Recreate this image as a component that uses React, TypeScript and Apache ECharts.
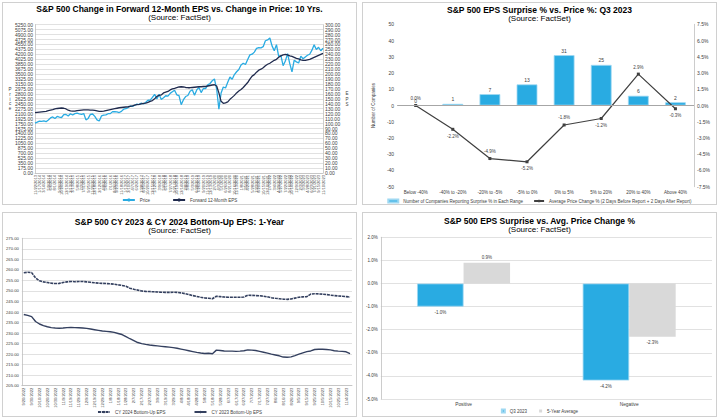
import React, { useEffect, useRef } from "react";
import * as echarts from "echarts";

const FONT = "Liberation Sans";
const BLUE = "#29ABE2";
const NAVY = "#1F2A4D";
const SLATE = "#34405F";
const GRAY_BAR = "#D9D9D9";
const TXT = "#404040";

// ---------- Panel 1: Price vs Forward 12M EPS (10 yrs) ----------
const P1_DATES = [
  "11/22/2013","12/20/2013",
  "1/17/2014","2/14/2014","3/14/2014","4/11/2014","5/9/2014","6/6/2014","7/4/2014","8/1/2014","8/29/2014","9/26/2014","10/24/2014","11/21/2014","12/19/2014",
  "1/16/2015","2/13/2015","3/13/2015","4/10/2015","5/8/2015","6/5/2015","7/3/2015","7/31/2015","8/28/2015","9/25/2015","10/23/2015","11/20/2015","12/18/2015",
  "1/15/2016","2/12/2016","3/11/2016","4/8/2016","5/6/2016","6/3/2016","7/1/2016","7/29/2016","8/26/2016","9/23/2016","10/21/2016","11/18/2016","12/16/2016",
  "1/13/2017","2/10/2017","3/10/2017","4/7/2017","5/5/2017","6/2/2017","6/30/2017","7/28/2017","8/25/2017","9/22/2017","10/20/2017","11/17/2017","12/15/2017",
  "1/12/2018","2/9/2018","3/9/2018","4/6/2018","5/4/2018","6/1/2018","6/29/2018","7/27/2018","8/24/2018","9/21/2018","10/19/2018","11/16/2018","12/14/2018",
  "1/11/2019","2/8/2019","3/8/2019","4/5/2019","5/3/2019","5/31/2019","6/28/2019","7/26/2019","8/23/2019","9/20/2019","10/18/2019","11/15/2019","12/13/2019",
  "1/10/2020","2/7/2020","3/6/2020","4/3/2020","5/1/2020","5/29/2020","6/26/2020","7/24/2020","8/21/2020","9/18/2020","10/16/2020","11/13/2020","12/11/2020",
  "1/8/2021","2/5/2021","3/5/2021","4/2/2021","4/30/2021","5/28/2021","6/25/2021","7/23/2021","8/20/2021","9/17/2021","10/15/2021","11/12/2021","12/10/2021",
  "1/7/2022","2/4/2022","3/4/2022","4/1/2022","4/29/2022","5/27/2022","6/24/2022","7/22/2022","8/19/2022","9/16/2022","10/14/2022","11/11/2022","12/9/2022",
  "1/6/2023","2/3/2023","3/3/2023","3/31/2023","4/28/2023","5/26/2023","6/23/2023","7/21/2023","8/18/2023","9/15/2023","10/13/2023","11/10/2023",
];
const P1_PRICE = [
  1765, 1800,
  1838, 1830, 1842, 1816, 1878, 1949, 1985, 1926, 2003, 1982, 1964, 2064, 2071,
  2019, 2097, 2053, 2102, 2116, 2092, 2077, 2104, 1880, 1932, 2075, 2089, 2006,
  1880, 1840, 2022, 2047, 2057, 2099, 2102, 2173, 2169, 2164, 2141, 2182, 2258,
  2275, 2316, 2372, 2355, 2399, 2439, 2423, 2472, 2443, 2502, 2575, 2578, 2675,
  2786, 2619, 2786, 2604, 2663, 2735, 2718, 2818, 2875, 2930, 2767, 2736, 2420,
  2596, 2708, 2743, 2893, 2946, 2752, 2942, 3026, 2847, 2992, 2986, 3120, 3169,
  3265, 3328, 2972, 2260, 2831, 3044, 3009, 3216, 3397, 3319, 3484, 3585, 3663,
  3824, 3886, 3841, 4019, 4181, 4204, 4280, 4411, 4441, 4432, 4471, 4682, 4712,
  4780, 4500, 4329, 4545, 4132, 4158, 3800, 3962, 4228, 3873, 3583, 3993, 3934,
  3895, 4136, 4045, 4109, 4169, 4205, 4348, 4536, 4370, 4450, 4327, 4415,
];
const P1_EPS = [
  122.0, 122.5,
  123.0, 123.5, 124.0, 124.5, 126.0, 127.0, 128.0, 129.5, 130.5, 131.0, 131.5, 131.0, 129.5,
  127.0, 125.5, 125.0, 125.0, 126.0, 126.5, 127.0, 127.5, 127.5, 127.5, 127.0, 127.0, 126.5,
  125.5, 124.5, 124.5, 125.0, 126.0, 127.0, 128.0, 129.0, 130.0, 131.0, 132.0, 132.5, 133.0,
  133.5, 134.0, 135.0, 136.0, 137.5, 138.5, 139.0, 140.0, 141.0, 141.5, 143.0, 145.0, 146.5,
  150.0, 155.0, 157.0, 158.0, 162.0, 163.5, 165.0, 168.0, 170.0, 171.0, 172.5, 174.0, 174.5,
  174.0, 173.0, 172.5, 172.5, 173.0, 173.5, 174.0, 174.5, 174.5, 175.0, 175.0, 176.0, 177.0,
  178.0, 178.5, 176.0, 162.0, 145.0, 141.0, 142.0, 144.0, 149.0, 153.0, 157.0, 162.0, 166.0,
  169.0, 173.0, 178.0, 183.0, 190.0, 196.0, 199.0, 204.0, 208.0, 210.0, 213.0, 217.0, 220.0,
  222.0, 225.0, 228.0, 230.0, 234.0, 237.0, 239.0, 240.0, 239.0, 237.0, 236.0, 234.0, 232.0,
  231.0, 229.0, 228.0, 228.0, 229.0, 230.0, 232.0, 234.0, 236.0, 238.0, 240.0, 242.0,
];
const P1_SHOWN_LABELS = 78;

// ---------- Panel 2: EPS surprise buckets ----------
const P2_CATS = ["Below -40%", "-40% to -20%", "-20% to -5%", "-5% to 0%", "0% to 5%", "5% to 20%", "20% to 40%", "Above 40%"];
const P2_COUNTS = [0, 1, 7, 13, 31, 25, 6, 2];
const P2_PRICE_CHG = [0.0, -2.2, -4.9, -5.2, -1.8, -1.2, 2.9, -0.3];

// ---------- Panel 3: CY2023 / CY2024 bottom-up EPS ----------
const P3_DATES = [
  "9/20/2022","9/25/2022","9/30/2022","10/5/2022","10/10/2022","10/15/2022","10/20/2022","10/25/2022","10/30/2022","11/4/2022","11/9/2022","11/14/2022","11/19/2022","11/24/2022","11/29/2022","12/4/2022","12/9/2022","12/14/2022","12/19/2022","12/24/2022","12/29/2022",
  "1/3/2023","1/8/2023","1/13/2023","1/18/2023","1/23/2023","1/28/2023","2/2/2023","2/7/2023","2/12/2023","2/17/2023","2/22/2023","2/27/2023","3/4/2023","3/9/2023","3/14/2023","3/19/2023","3/24/2023","3/29/2023","4/3/2023","4/8/2023","4/13/2023","4/18/2023","4/23/2023","4/28/2023","5/3/2023","5/8/2023","5/13/2023","5/18/2023","5/23/2023","5/28/2023","6/2/2023","6/7/2023","6/12/2023","6/17/2023","6/22/2023","6/27/2023","7/2/2023","7/7/2023","7/12/2023","7/17/2023","7/22/2023","7/27/2023","8/1/2023","8/6/2023","8/11/2023","8/16/2023","8/21/2023","8/26/2023","8/31/2023","9/5/2023","9/10/2023","9/15/2023","9/20/2023","9/25/2023","9/30/2023","10/5/2023","10/10/2023","10/15/2023","10/20/2023","10/25/2023","10/30/2023","11/4/2023","11/9/2023",
];
const P3_CY2024 = [
  258.6, 258.9, 258.7, 256.2, 254.8, 254.3, 254.0, 253.7, 253.5, 253.6,
  254.0, 254.3, 254.5, 254.4, 254.5, 254.5, 254.3, 254.1, 253.9, 253.7,
  253.6, 253.5, 253.4, 253.2, 252.9, 252.6, 252.2, 251.3, 250.8, 250.4,
  250.0, 249.8, 249.7, 249.6, 249.5, 249.4, 249.3, 249.3, 249.4, 249.3,
  249.1, 248.7, 248.3, 247.8, 247.4, 247.0, 246.7, 246.5, 246.3, 247.5,
  247.3, 247.1, 247.0, 247.0, 247.0, 247.0, 247.1, 248.0, 247.9, 247.8,
  247.7, 247.5, 247.2, 246.8, 246.5, 246.3, 246.1, 246.0, 246.2, 246.6,
  247.0, 247.2, 247.3, 248.5, 248.7, 248.6, 248.5, 248.3, 248.0, 247.8,
  247.6, 247.5, 247.3, 247.1,
];
const P3_CY2023 = [
  238.8, 238.4, 237.8, 235.5, 234.3, 233.5, 233.0, 232.6, 232.4, 232.3,
  232.4, 232.6, 232.7, 232.6, 232.5, 232.4, 232.2, 231.9, 231.6, 231.3,
  231.0, 230.8, 230.6, 230.3, 229.8, 229.3, 228.3, 227.3, 226.4, 225.5,
  225.0, 224.6, 224.3, 224.1, 223.9, 223.7, 223.5, 223.3, 223.1, 222.8,
  222.4, 222.0, 221.6, 221.2, 220.8, 220.5, 220.3, 220.4, 220.2, 221.9,
  221.7, 221.5, 221.4, 221.4, 221.3, 221.4, 221.6, 222.0, 221.9, 221.7,
  221.3, 220.9, 220.5, 220.0, 219.6, 219.2, 218.6, 218.5, 218.7, 219.3,
  220.0, 220.6, 221.2, 221.5, 222.2, 222.3, 222.3, 222.2, 222.0, 221.6,
  221.4, 221.3, 221.1, 220.2,
];

// ---------- Panel 4: Surprise vs avg price change ----------
const P4_CATS = ["Positive", "Negative"];
const P4_Q3 = [-1.0, -4.2];
const P4_5YR = [0.9, -2.3];

// ---------- helpers ----------
const lab = (size: number) => ({ fontFamily: FONT, fontSize: size, color: TXT });

function titles(main: string, t1: number, t2: number) {
  return [
    { text: main, left: "center", top: t1, padding: 0, textStyle: { fontFamily: FONT, fontSize: 8.5, lineHeight: 8.5, fontWeight: "bold", color: "#000" } },
    { text: "(Source: FactSet)", left: "center", top: t2, padding: 0, textStyle: { fontFamily: FONT, fontSize: 8, lineHeight: 8, fontWeight: "normal", color: "#000" } },
  ];
}

const axisLineStyle = { show: true, lineStyle: { color: "#bfbfbf", width: 0.8 } };
const gridLine = { show: true, lineStyle: { color: "#d9d9d9", width: 0.8 } };

function legendBase(top: number) {
  return { top, left: "center", padding: 0, textStyle: { ...lab(4.5), lineHeight: 5 } };
}

function option1(): any {
  return {
    animation: false,
    title: titles("S&P 500 Change in Forward 12-Month EPS vs. Change in Price: 10 Yrs.", 1.6, 10.3),
    grid: { left: 32, right: 33, top: 21.7, bottom: 31 },
    legend: {
      ...legendBase(194.5), itemWidth: 12, itemHeight: 4, itemGap: 22,
      data: ["Price", "Forward 12-Month EPS"],
    },
    xAxis: {
      type: "category", data: P1_DATES, boundaryGap: false,
      axisTick: { show: false }, axisLine: axisLineStyle,
      axisLabel: {
        ...lab(4), rotate: 90, margin: 2,
        interval: (i: number) => Math.floor((i * P1_SHOWN_LABELS) / P1_DATES.length) !== Math.floor(((i - 1) * P1_SHOWN_LABELS) / P1_DATES.length),
      },
    },
    yAxis: [
      { type: "value", min: 0, max: 5250, interval: 175, axisLine: axisLineStyle, axisTick: { show: false },
        axisLabel: { ...lab(5), margin: 2, formatter: (v: number) => v.toFixed(2) }, splitLine: gridLine },
      { type: "value", min: 0, max: 300, interval: 10, position: "right", axisLine: axisLineStyle, axisTick: { show: false },
        axisLabel: { ...lab(5), margin: 2, formatter: (v: number) => v.toFixed(2) }, splitLine: { show: false } },
    ],
    graphic: [
      { type: "text", x: 7, y: 96, style: { text: "P\nr\ni\nc\ne", fontFamily: FONT, fontSize: 4.5, lineHeight: 4.8, fill: TXT, align: "center", verticalAlign: "middle" } },
      { type: "text", x: 344, y: 96, style: { text: "E\nP\nS", fontFamily: FONT, fontSize: 4.5, lineHeight: 5.5, fill: TXT, align: "center", verticalAlign: "middle" } },
    ],
    series: [
      { name: "Price", type: "line", data: P1_PRICE, yAxisIndex: 0, symbol: "none", lineStyle: { color: BLUE, width: 1.3 }, itemStyle: { color: BLUE } },
      { name: "Forward 12-Month EPS", type: "line", data: P1_EPS, yAxisIndex: 1, symbol: "none", lineStyle: { color: NAVY, width: 1.3 }, itemStyle: { color: NAVY } },
    ],
  };
}

function option2(): any {
  return {
    animation: false,
    title: titles("S&P 500 EPS Surprise % vs. Price %: Q3 2023", 2.5, 11.2),
    grid: { left: 21, right: 22, top: 21.3, bottom: 17.3 },
    legend: {
      ...legendBase(195.5), itemWidth: 10, itemHeight: 3, itemGap: 10,
      data: [
        { name: "Number of Companies Reporting Surprise % in Each Range", icon: "rect" },
        { name: "Average Price Change % (2 Days Before Report + 2 Days After Report)" },
      ],
    },
    xAxis: {
      type: "category", data: P2_CATS, axisTick: { show: false }, axisLine: { show: false, onZero: false },
      axisLabel: { ...lab(4.5), margin: 3, interval: 0 },
    },
    yAxis: [
      { type: "value", min: -50, max: 50, interval: 10, axisLine: { show: false }, axisTick: { show: false }, splitLine: { show: false },
        axisLabel: { ...lab(5), margin: 3 },
        name: "Number of Companies", nameLocation: "middle", nameRotate: 90, nameGap: 13, nameTextStyle: lab(4.5) },
      { type: "value", min: -7.5, max: 7.5, interval: 1.5, position: "right", axisLine: axisLineStyle, axisTick: { show: false }, splitLine: { show: false },
        axisLabel: { ...lab(5), margin: 3, formatter: (v: number) => v.toFixed(1) + "%" } },
    ],
    series: [
      {
        name: "Number of Companies Reporting Surprise % in Each Range", type: "bar", data: P2_COUNTS, barWidth: "56%",
        itemStyle: { color: BLUE, borderColor: "#9ED8F2", borderWidth: 0.8 },
        label: { show: true, position: "top", distance: 2, ...lab(5) },
        markLine: { silent: true, symbol: "none", label: { show: false }, lineStyle: { color: "#a6a6a6", width: 1, type: "solid" }, data: [{ yAxis: 0 }] },
      },
      {
        name: "Average Price Change % (2 Days Before Report + 2 Days After Report)", type: "line", yAxisIndex: 1,
        data: P2_PRICE_CHG.map((v, i) => ({ value: v, label: { position: i % 2 === 0 ? "top" : "bottom" } })),
        symbol: "rect", symbolSize: 3, lineStyle: { color: TXT, width: 1.2 }, itemStyle: { color: TXT },
        label: { show: true, distance: 3, ...lab(4.5), formatter: (p: any) => p.value.toFixed(1) + "%" },
      },
    ],
  };
}

function endLabel(arr: number[]) {
  return arr.map((v, i) =>
    i === arr.length - 1
      ? { value: v, label: { show: true, position: "bottom", distance: 2, offset: [-3, 0], formatter: (p: any) => p.value.toFixed(2),
          backgroundColor: "#fff", borderColor: TXT, borderWidth: 0.6, padding: [1, 1.5, 0.5, 1.5], ...lab(4.5) } }
      : v
  );
}

function option3(): any {
  return {
    animation: false,
    title: titles("S&P 500 CY 2023 & CY 2024 Bottom-Up EPS: 1-Year", 4.8, 13.4),
    grid: { left: 17.7, right: 4, top: 25.3, bottom: 30.3 },
    legend: {
      ...legendBase(196.5), itemWidth: 12, itemHeight: 3, itemGap: 28,
      data: ["CY 2024 Bottom-Up EPS", "CY 2023 Bottom-Up EPS"],
    },
    xAxis: {
      type: "category", data: P3_DATES, boundaryGap: true, axisTick: { show: false }, axisLine: axisLineStyle,
      axisLabel: { ...lab(4), rotate: 90, margin: 2, interval: 1 },
    },
    yAxis: {
      type: "value", min: 205, max: 275, interval: 5, axisLine: axisLineStyle, axisTick: { show: false }, splitLine: gridLine,
      axisLabel: { ...lab(4.2), margin: 3, formatter: (v: number) => v.toFixed(2) },
    },
    series: [
      { name: "CY 2024 Bottom-Up EPS", type: "line", data: endLabel(P3_CY2024), symbol: "none",
        lineStyle: { color: SLATE, width: 1.6, type: [3, 0.8] }, itemStyle: { color: SLATE } },
      { name: "CY 2023 Bottom-Up EPS", type: "line", data: endLabel(P3_CY2023), symbol: "none",
        lineStyle: { color: SLATE, width: 1.4 }, itemStyle: { color: SLATE } },
    ],
  };
}

function option4(): any {
  const lbl = (arr: number[]) => arr.map((v) => ({ value: v, label: { position: v < 0 ? "bottom" : "top" } }));
  return {
    animation: false,
    title: titles("S&P 500 EPS Surprise vs. Avg. Price Change %", 3.8, 12.4),
    grid: { left: 17.7, right: 4, top: 24.3, bottom: 17 },
    legend: {
      ...legendBase(195.5), icon: "rect", itemWidth: 3, itemHeight: 3, itemGap: 12,
      data: ["Q3 2023", "5-Year Average"],
    },
    xAxis: {
      type: "category", data: P4_CATS, axisTick: { show: false }, axisLine: { show: false, onZero: false },
      axisLabel: { ...lab(4.8), margin: 3 },
    },
    yAxis: {
      type: "value", min: -5, max: 2, interval: 1, axisLine: axisLineStyle, axisTick: { show: false }, splitLine: gridLine,
      axisLabel: { ...lab(4.5), margin: 3, formatter: (v: number) => v.toFixed(1) + "%" },
    },
    series: [
      { name: "Q3 2023", type: "bar", data: lbl(P4_Q3), barWidth: 46.5, barGap: "0%",
        itemStyle: { color: BLUE, borderColor: "#9ED8F2", borderWidth: 0.8 },
        label: { show: true, distance: 3, ...lab(4.5), formatter: (p: any) => p.value.toFixed(1) + "%" } },
      { name: "5-Year Average", type: "bar", data: lbl(P4_5YR), barWidth: 46.5, barGap: "0%",
        itemStyle: { color: GRAY_BAR },
        label: { show: true, distance: 3, ...lab(4.5), formatter: (p: any) => p.value.toFixed(1) + "%" } },
    ],
  };
}

function Chart({ option, w, h }: { option: any; w: number; h: number }) {
  const ref = useRef<HTMLDivElement>(null);
  useEffect(() => {
    const chart = echarts.init(ref.current as HTMLDivElement, null, { renderer: "svg" });
    chart.setOption(option);
    return () => chart.dispose();
  }, []);
  return <div ref={ref} style={{ width: w, height: h }} />;
}

function Panel({ left, top, width, height, option }: any) {
  return (
    <div style={{ position: "absolute", left, top, width, height, boxSizing: "border-box", border: "1px solid #d0d0d0", background: "#fff" }}>
      <Chart option={option} w={width - 2} h={height - 2} />
    </div>
  );
}

export default function App() {
  return (
    <div style={{ position: "absolute", left: 0, top: 0, width: 720, height: 420, background: "#fff", overflow: "hidden" }}>
      <Panel left={2} top={2} width={355} height={203} option={option1()} />
      <Panel left={362} top={2} width={355} height={203} option={option2()} />
      <Panel left={2} top={212} width={355} height={205} option={option3()} />
      <Panel left={362} top={212} width={355} height={205} option={option4()} />
    </div>
  );
}
